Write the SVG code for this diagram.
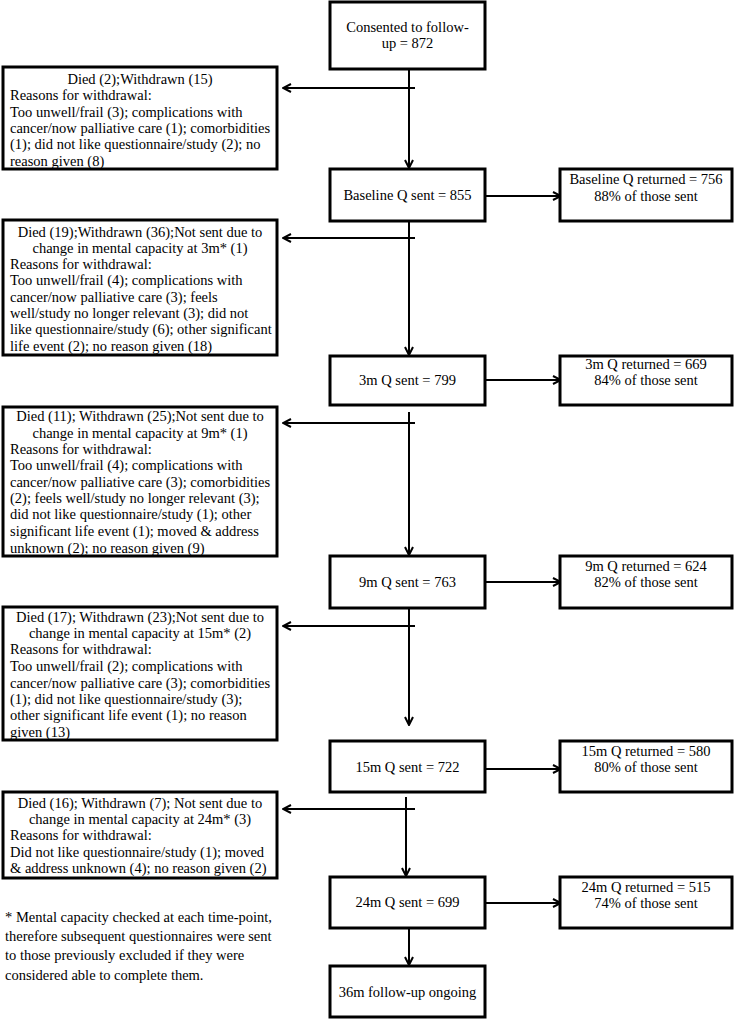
<svg xmlns="http://www.w3.org/2000/svg" width="734" height="1019" viewBox="0 0 734 1019" font-family="'Liberation Serif', 'Times New Roman', Times, serif">
<style>
rect{fill:#fff;stroke:#000;stroke-width:3}
text{font-family:'Liberation Serif','Times New Roman',Times,serif;font-size:14.5px;fill:#000}
.c{text-anchor:middle}
.l{stroke:#000;stroke-width:2;fill:none}
</style>
<defs>
<marker id="ah" viewBox="0 0 10 10" refX="9" refY="5" markerWidth="10" markerHeight="10" markerUnits="userSpaceOnUse" orient="auto">
<path d="M1,1 L9,5 L1,9" fill="none" stroke="#000" stroke-width="2"/>
</marker>
</defs>
<rect x="0" y="0" width="734" height="1019" style="fill:#fff;stroke:none"/>
<g id="connectors">
<path class="l" d="M409,69 V168" marker-end="url(#ah)"/>
<path class="l" d="M415,88 H283" marker-end="url(#ah)"/>
<path class="l" d="M485,196 H561" marker-end="url(#ah)"/>
<path class="l" d="M409,221 V355" marker-end="url(#ah)"/>
<path class="l" d="M415,238 H283" marker-end="url(#ah)"/>
<path class="l" d="M485,380 H561" marker-end="url(#ah)"/>
<path class="l" d="M409,412 V555" marker-end="url(#ah)"/>
<path class="l" d="M415,423 H283" marker-end="url(#ah)"/>
<path class="l" d="M485,582 H561" marker-end="url(#ah)"/>
<path class="l" d="M409,608 V725" marker-end="url(#ah)"/>
<path class="l" d="M415,626 H283" marker-end="url(#ah)"/>
<path class="l" d="M485,769 H561" marker-end="url(#ah)"/>
<path class="l" d="M406,797 V876" marker-end="url(#ah)"/>
<path class="l" d="M415,809 H283" marker-end="url(#ah)"/>
<path class="l" d="M485,903 H561" marker-end="url(#ah)"/>
<path class="l" d="M409,928 V965" marker-end="url(#ah)"/>
</g>
<g id="consented">
<rect x="330" y="2" width="155" height="67"/>
<text class="c" x="407.5" y="32">Consented to follow-</text>
<text class="c" x="407.5" y="48">up = 872</text>
</g>
<g id="excl0">
<rect x="3" y="67" width="274" height="102"/>
<text class="c" x="140" y="84">Died (2);Withdrawn (15)</text>
<text x="10" y="100">Reasons for withdrawal:</text>
<text x="10" y="117">Too unwell/frail (3); complications with</text>
<text x="10" y="133">cancer/now palliative care (1); comorbidities</text>
<text x="10" y="149">(1); did not like questionnaire/study (2); no</text>
<text x="10" y="166">reason given (8)</text>
</g>
<g id="baseline">
<rect x="330" y="169" width="155" height="52"/>
<text class="c" x="407.5" y="200">Baseline Q sent = 855</text>
</g>
<g id="baseline-ret">
<rect x="560" y="169" width="172" height="52"/>
<text class="c" x="646" y="184">Baseline Q returned = 756</text>
<text class="c" x="646" y="201">88% of those sent</text>
</g>
<g id="excl3">
<rect x="3" y="220" width="274" height="135"/>
<text class="c" x="140" y="237">Died (19);Withdrawn (36);Not sent due to</text>
<text class="c" x="140" y="253">change in mental capacity at 3m* (1)</text>
<text x="10" y="269">Reasons for withdrawal:</text>
<text x="10" y="285">Too unwell/frail (4); complications with</text>
<text x="10" y="302">cancer/now palliative care (3); feels</text>
<text x="10" y="318">well/study no longer relevant (3); did not</text>
<text x="10" y="334">like questionnaire/study (6); other significant</text>
<text x="10" y="351">life event (2); no reason given (18)</text>
</g>
<g id="m3">
<rect x="330" y="356" width="155" height="49"/>
<text class="c" x="407.5" y="385">3m Q sent = 799</text>
</g>
<g id="m3-ret">
<rect x="560" y="356" width="172" height="49"/>
<text class="c" x="646" y="369">3m Q returned = 669</text>
<text class="c" x="646" y="385">84% of those sent</text>
</g>
<g id="excl9">
<rect x="3" y="407" width="274" height="149"/>
<text class="c" x="140" y="421">Died (11); Withdrawn (25);Not sent due to</text>
<text class="c" x="140" y="438">change in mental capacity at 9m* (1)</text>
<text x="10" y="454">Reasons for withdrawal:</text>
<text x="10" y="470">Too unwell/frail (4); complications with</text>
<text x="10" y="487">cancer/now palliative care (3); comorbidities</text>
<text x="10" y="503">(2); feels well/study no longer relevant (3);</text>
<text x="10" y="519">did not like questionnaire/study (1); other</text>
<text x="10" y="536">significant life event (1); moved &amp; address</text>
<text x="10" y="553">unknown (2); no reason given (9)</text>
</g>
<g id="m9">
<rect x="330" y="556" width="155" height="52"/>
<text class="c" x="407.5" y="587">9m Q sent = 763</text>
</g>
<g id="m9-ret">
<rect x="560" y="556" width="172" height="52"/>
<text class="c" x="646" y="571">9m Q returned = 624</text>
<text class="c" x="646" y="587">82% of those sent</text>
</g>
<g id="excl15">
<rect x="3" y="607" width="274" height="133"/>
<text class="c" x="140" y="622">Died (17); Withdrawn (23);Not sent due to</text>
<text class="c" x="140" y="638">change in mental capacity at 15m* (2)</text>
<text x="10" y="654">Reasons for withdrawal:</text>
<text x="10" y="671">Too unwell/frail (2); complications with</text>
<text x="10" y="688">cancer/now palliative care (3); comorbidities</text>
<text x="10" y="704">(1); did not like questionnaire/study (3);</text>
<text x="10" y="720">other significant life event (1); no reason</text>
<text x="10" y="737">given (13)</text>
</g>
<g id="m15">
<rect x="330" y="741" width="155" height="51"/>
<text class="c" x="407.5" y="772">15m Q sent = 722</text>
</g>
<g id="m15-ret">
<rect x="560" y="741" width="172" height="51"/>
<text class="c" x="646" y="756">15m Q returned = 580</text>
<text class="c" x="646" y="772">80% of those sent</text>
</g>
<g id="excl24">
<rect x="3" y="792" width="274" height="86"/>
<text class="c" x="140" y="808">Died (16); Withdrawn (7); Not sent due to</text>
<text class="c" x="140" y="824">change in mental capacity at 24m* (3)</text>
<text x="10" y="840">Reasons for withdrawal:</text>
<text x="10" y="857">Did not like questionnaire/study (1); moved</text>
<text x="10" y="873">&amp; address unknown (4); no reason given (2)</text>
</g>
<g id="m24">
<rect x="330" y="877" width="155" height="51"/>
<text class="c" x="407.5" y="907">24m Q sent = 699</text>
</g>
<g id="m24-ret">
<rect x="560" y="877" width="172" height="51"/>
<text class="c" x="646" y="892">24m Q returned = 515</text>
<text class="c" x="646" y="908">74% of those sent</text>
</g>
<g id="m36">
<rect x="330" y="966" width="155" height="51"/>
<text class="c" x="407.5" y="997">36m follow-up ongoing</text>
</g>
<g id="footnote">
<text x="5" y="922">* Mental capacity checked at each time-point,</text>
<text x="5" y="941">therefore subsequent questionnaires were sent</text>
<text x="5" y="960">to those previously excluded if they were</text>
<text x="5" y="980">considered able to complete them.</text>
</g>
</svg>
